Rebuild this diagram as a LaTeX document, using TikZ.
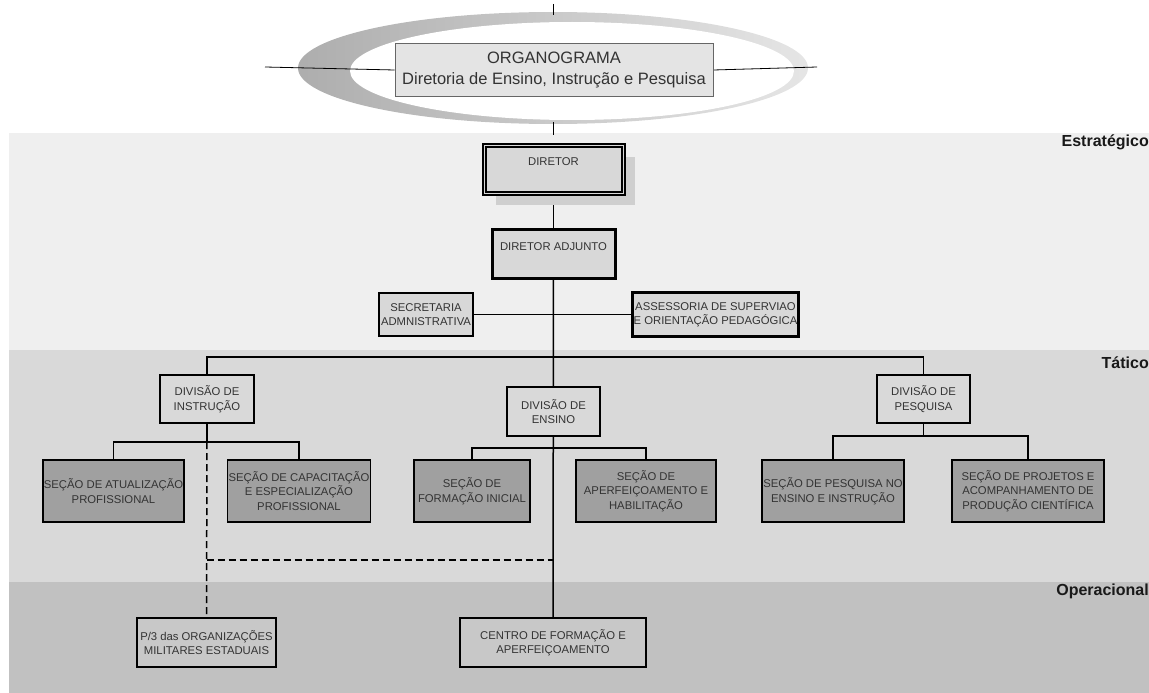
\documentclass[tikz,border=0pt]{standalone}
\usepackage{fontspec}
\setmainfont{Liberation Sans}
\usetikzlibrary{positioning, shadows}

\definecolor{faixaA}{HTML}{EFEFEF}
\definecolor{faixaB}{HTML}{D9D9D9}
\definecolor{faixaC}{HTML}{C1C1C1}
\definecolor{cxclara}{HTML}{D8D8D8}
\definecolor{cxsecao}{HTML}{A0A0A0}
\definecolor{cxoper}{HTML}{C8C8C8}
\definecolor{cxtit}{HTML}{E4E4E4}
\definecolor{sombra}{HTML}{CFCFCF}
\definecolor{textocx}{HTML}{333333}

\pgfdeclarelayer{fundo}
\pgfdeclarelayer{linhas}
\pgfsetlayers{fundo,linhas,main}

\tikzset{
  caixa/.style={draw=black, line width=1.8pt, fill=#1, text=textocx, align=center,
    font=\fontsize{11.3}{14.5}\selectfont, inner sep=1pt},
  caixa/.default=cxclara,
  tam/.style 2 args={minimum width=#1pt, minimum height=#2pt},
  linha/.style={line width=1.5pt, black},
  nivel/.style={anchor=east, font=\fontsize{16}{18}\selectfont\bfseries, text=black!90, inner sep=0pt}
}

\begin{document}
\begin{tikzpicture}[x=1pt,y=-1pt]
\useasboundingbox (0,0) rectangle (1149,693);

% faixas e elipse
\begin{pgfonlayer}{fundo}
\fill[faixaA] (9,133) rectangle (1149,350);
\fill[faixaB] (9,350) rectangle (1149,582);
\fill[faixaC] (9,582) rectangle (1149,693);
\shade[left color=black!32, right color=black!10] (553,68) ellipse [x radius=255pt, y radius=56pt];
\fill[white] (572,71) ellipse [x radius=222pt, y radius=49pt];
\end{pgfonlayer}

% titulo
\node[caixa=cxtit, draw=black!60, line width=0.8pt, tam={318}{53},
  font=\fontsize{16.5}{21}\selectfont] (tit) at (554,70)
  {ORGANOGRAMA\\Diretoria de Ensino, Instrução e Pesquisa};
\coordinate (linE) at (265,67);
\coordinate (linD) at (817,67);
\coordinate (marcaA) at (553,4);
\coordinate (marcaB) at (553,122);

% estrategico
\node[caixa, tam={139}{48}, text depth=14pt, line width=2pt, double=cxclara, double distance=1pt,
  drop shadow={shadow xshift=12pt, shadow yshift=-12pt, fill=sombra, opacity=1}] (dir) at (553.5,169) {DIRETOR};
\node[caixa, tam={123}{49}, text depth=14pt, line width=3pt] (adj) at (553.5,253.5) {DIRETOR ADJUNTO};
\node[caixa, tam={94}{43}] (sec) at (426,314.5) {SECRETARIA\\ADMNISTRATIVA};
\node[caixa, tam={163}{44}, line width=2.4pt] (asse) at (715.5,314.5) {ASSESSORIA DE SUPERVIAO\\E ORIENTAÇÃO PEDAGÓGICA};

% tatico
\node[caixa=faixaB, tam={94}{48}] (instr) at (207,399) {DIVISÃO DE\\INSTRUÇÃO};
\node[caixa=faixaB, tam={93}{49}] (ens) at (553.5,411.5) {DIVISÃO DE\\ENSINO};
\node[caixa=faixaB, tam={93}{48}] (pesq) at (923.5,399) {DIVISÃO DE\\PESQUISA};

\node[caixa=cxsecao, tam={139}{62}] (atual) at (113.5,491) {SEÇÃO DE ATUALIZAÇÃO\\PROFISSIONAL};
\node[caixa=cxsecao, tam={140}{62}] (capac) at (299,491) {SEÇÃO DE CAPACITAÇÃO\\E ESPECIALIZAÇÃO\\PROFISSIONAL};
\node[caixa=cxsecao, tam={116}{62}] (form) at (472,491) {SEÇÃO DE\\FORMAÇÃO INICIAL};
\node[caixa=cxsecao, tam={140}{62}] (aperf) at (646,491) {SEÇÃO DE\\APERFEIÇOAMENTO E\\HABILITAÇÃO};
\node[caixa=cxsecao, tam={142}{62}] (pnoens) at (833,491) {SEÇÃO DE PESQUISA NO\\ENSINO E INSTRUÇÃO};
\node[caixa=cxsecao, tam={152}{62}] (proj) at (1028,491) {SEÇÃO DE PROJETOS E\\ACOMPANHAMENTO DE\\PRODUÇÃO CIENTÍFICA};

% operacional
\node[caixa=cxoper, tam={139}{49}] (p3) at (206.5,642.5) {P/3 das ORGANIZAÇÕES\\MILITARES ESTADUAIS};
\node[caixa=cxoper, tam={186}{49}] (centro) at (553,642.5) {CENTRO DE FORMAÇÃO E\\APERFEIÇOAMENTO};

\node[nivel] (estr) at (1149,142) {Estratégico};
\node[nivel] (tat) at (1149,363) {Tático};
\node[nivel] (oper) at (1149,591) {Operacional};

\coordinate (ramo) at (553,357);
\coordinate (ramoI) at (207,442);
\coordinate (ramoE) at (553,448);
\coordinate (ramoP) at (923.5,436);
\coordinate (trac) at (553,560);

\begin{pgfonlayer}{linhas}
\draw[line width=0.8pt] (linE) -- (tit.west);
\draw[line width=0.8pt] (tit.east) -- (linD);
\draw[line width=0.8pt] (marcaA) -- ++(0,11);
\draw[line width=0.8pt] (marcaB) -- ++(0,13);
\draw[linha] (dir) -- (adj);
\draw[linha] (adj) -- (centro);
\draw[linha] (sec) -- (asse);
\draw[linha] (instr.north) |- (ramo) -| (pesq.north);
\draw[linha] (instr) -- (ramoI);
\draw[linha] (atual.north) |- (ramoI) -| (capac.north);
\draw[linha] (form.north) |- (ramoE) -| (aperf.north);
\draw[linha] (pesq) -- (ramoP);
\draw[linha] (pnoens.north) |- (ramoP) -| (proj.north);
\draw[linha, dash pattern=on 7pt off 4pt] (ramoI) -- (p3.north);
\draw[linha, dash pattern=on 7pt off 4pt] (p3.north |- trac) -- (trac);
\end{pgfonlayer}
\end{tikzpicture}
\end{document}
